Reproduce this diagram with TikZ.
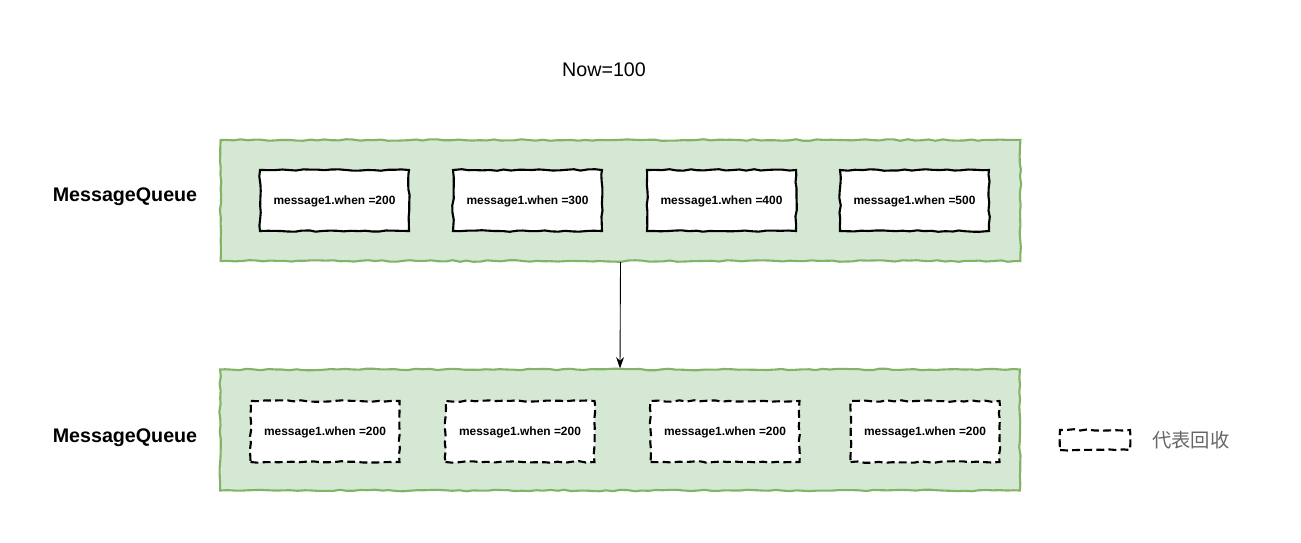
\documentclass[tikz,border=0pt]{standalone}
\usepackage{fontspec}
\setmainfont{Liberation Sans}
\newfontfamily\cjk{Noto Sans CJK SC}
\usetikzlibrary{arrows.meta,positioning,decorations.pathmorphing}
\definecolor{qfill}{HTML}{D5E8D4}
\definecolor{qline}{HTML}{82B366}
\definecolor{legendgray}{HTML}{666666}
\pgfmathsetseed{7}

\begin{document}
\begin{tikzpicture}[x=0.02cm, y=-0.02cm, >={Stealth[length=6.5pt, width=4.5pt]}]
    \tikzstyle{sketch} = [decorate, decoration={random steps, segment length=4pt, amplitude=0.45pt}]
    \tikzstyle{queue}  = [rectangle, draw=qline, fill=qfill, line width=1.2pt, minimum width=16cm, minimum height=2.42cm, sketch]
    \tikzstyle{msg}    = [rectangle, draw, fill=white, line width=1.2pt, minimum width=2.98cm, minimum height=1.22cm, text depth=0pt, font=\fontsize{6.8}{8}\selectfont\bfseries, sketch]
    \tikzstyle{freed}  = [msg, dash pattern=on 4.5pt off 2.4pt]
    \tikzstyle{title}  = [font=\fontsize{11.2}{13}\selectfont\bfseries]

    \useasboundingbox (0,0) rectangle (1301,542);

    \node[font=\fontsize{11.2}{13}\selectfont] (now) at (604,70) {Now=100};

    % before
    \node[queue] (q1) at (620.5,200.5) {};
    \node[title] (t1) at (125,197) {MessageQueue};
    \node[msg] (m1) at (334.5,200.5) {message1.when =200};
    \node[msg] (m2) at (527.5,200.5) {message1.when =300};
    \node[msg] (m3) at (721.5,200.5) {message1.when =400};
    \node[msg] (m4) at (914.5,200.5) {message1.when =500};

    % after
    \node[queue] (q2) at (620,430) {};
    \node[title] (t2) at (125,438) {MessageQueue};
    \node[freed] (r1) at (325,431.5) {message1.when =200};
    \node[freed] (r2) at (520,431.5) {message1.when =200};
    \node[freed] (r3) at (725,431.5) {message1.when =200};
    \node[freed] (r4) at (925,431.5) {message1.when =200};

    % legend
    \node[freed, minimum width=1.4cm, minimum height=0.4cm] (lg) at (1095,440) {};
    \node[font=\cjk\fontsize{11}{13}\selectfont, text=legendgray, right=0.3cm of lg] (lgt) {代表回收};

    \draw[->, line width=0.5pt] (q1.south) -- (q2.north);
\end{tikzpicture}
\end{document}
